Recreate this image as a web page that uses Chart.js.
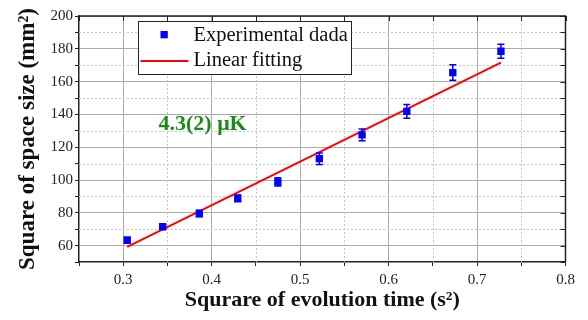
<!DOCTYPE html>
<html>
<head>
<meta charset="utf-8">
<script src="https://cdn.jsdelivr.net/npm/chart.js@4"></script>
<style>
  html, body { margin: 0; padding: 0; background: #ffffff; }
  #wrap { width: 588px; height: 320px; position: relative; }
</style>
</head>
<body>
<div id="wrap"><canvas id="c"></canvas></div>
<script>
// ---- data ----
const timeSq   = [0.3045, 0.3446, 0.386, 0.4295, 0.4748, 0.5217, 0.570, 0.6206, 0.6726, 0.727];
const sizeSq   = [63.3, 71.5, 79.6, 88.8, 98.8, 113.0, 127.5, 141.8, 165.5, 178.5];
const sizeErr  = [1.8, 1.5, 2.0, 2.0, 2.5, 3.5, 3.6, 4.2, 4.7, 4.3];
const fitX     = [0.3045, 0.727];
const fitY     = [59.2, 171.6];
const seriesNames = ['Experimental dada', 'Linear fitting'];
const annotationText = '4.3(2) μK';
const xTitle = 'Squrare of evolution time (s²)';
const yTitle = 'Square of space size (mm²)';

const SERIF = "'Liberation Serif', 'Times New Roman', serif";
const AXIS_COLOR = '#222222';
const MAJOR_GRID = '#ababab';
const MINOR_GRID = '#c4c4c4';

function isMajorX(v) { return Math.round(v * 100) % 10 === 0; }
function isMajorY(v) { return Math.round(v) % 20 === 0; }

const decorPlugin = {
  id: 'decor',
  beforeDatasetsDraw(chart) {
    const ctx = chart.ctx;
    const xs = chart.scales.x, ys = chart.scales.y;
    const a = chart.chartArea;
    ctx.save();
    // minor dotted grid lines
    ctx.strokeStyle = MINOR_GRID;
    ctx.lineWidth = 1;
    ctx.setLineDash([2, 2]);
    xs.ticks.forEach(t => {
      if (!isMajorX(t.value) && t.value > xs.min + 1e-9 && t.value < xs.max - 1e-9) {
        const px = Math.round(xs.getPixelForValue(t.value)) + 0.5;
        ctx.beginPath(); ctx.moveTo(px, a.top); ctx.lineTo(px, a.bottom); ctx.stroke();
      }
    });
    ys.ticks.forEach(t => {
      if (!isMajorY(t.value) && t.value > ys.min + 1e-9 && t.value < ys.max - 1e-9) {
        const py = Math.round(ys.getPixelForValue(t.value)) + 0.5;
        ctx.beginPath(); ctx.moveTo(a.left, py); ctx.lineTo(a.right, py); ctx.stroke();
      }
    });
    ctx.setLineDash([]);
    // top and right frame lines with inward ticks
    ctx.strokeStyle = AXIS_COLOR;
    ctx.lineWidth = 1.5;
    ctx.beginPath();
    ctx.moveTo(a.left, a.top); ctx.lineTo(a.right, a.top); ctx.lineTo(a.right, a.bottom);
    ctx.stroke();
    ctx.lineWidth = 1;
    xs.ticks.forEach(t => {
      const px = Math.round(xs.getPixelForValue(t.value)) + 0.5;
      ctx.beginPath(); ctx.moveTo(px, a.top); ctx.lineTo(px, a.top + 5); ctx.stroke();
    });
    ys.ticks.forEach(t => {
      const py = Math.round(ys.getPixelForValue(t.value)) + 0.5;
      ctx.beginPath(); ctx.moveTo(a.right, py); ctx.lineTo(a.right - 5, py); ctx.stroke();
    });
    ctx.restore();
  },
  afterDatasetsDraw(chart) {
    const ctx = chart.ctx;
    const xs = chart.scales.x, ys = chart.scales.y;
    const a = chart.chartArea;
    const ds0 = chart.data.datasets[0];
    const ds1 = chart.data.datasets[1];
    ctx.save();
    // error bars
    ctx.strokeStyle = ds0.backgroundColor;
    ctx.lineWidth = 1.5;
    ds0.data.forEach((p, i) => {
      const px = xs.getPixelForValue(p.x);
      const y1 = ys.getPixelForValue(p.y - sizeErr[i]);
      const y2 = ys.getPixelForValue(p.y + sizeErr[i]);
      ctx.beginPath();
      ctx.moveTo(px, y1); ctx.lineTo(px, y2);
      ctx.moveTo(px - 3.5, y1); ctx.lineTo(px + 3.5, y1);
      ctx.moveTo(px - 3.5, y2); ctx.lineTo(px + 3.5, y2);
      ctx.stroke();
    });
    // annotation
    ctx.fillStyle = '#1e8a1e';
    ctx.font = "bold 22px " + SERIF;
    ctx.textAlign = 'left';
    ctx.textBaseline = 'alphabetic';
    ctx.fillText(annotationText, a.left + 79.5, a.top + 113.5);
    // legend box
    const bx = a.left + 59.5, by = a.top + 5.5, bw = 213, bh = 53;
    ctx.fillStyle = '#ffffff';
    ctx.fillRect(bx, by, bw, bh);
    ctx.strokeStyle = AXIS_COLOR;
    ctx.lineWidth = 1;
    ctx.strokeRect(bx, by, bw, bh);
    // entry 1: square marker
    ctx.fillStyle = ds0.backgroundColor;
    ctx.fillRect(bx + 22, by + 9.5, 7.3, 7.3);
    ctx.fillStyle = '#111111';
    ctx.font = "20.5px " + SERIF;
    ctx.textBaseline = 'middle';
    ctx.fillText(ds0.label, bx + 55, by + 14);
    // entry 2: line sample
    ctx.strokeStyle = ds1.borderColor;
    ctx.lineWidth = 2;
    ctx.beginPath();
    ctx.moveTo(bx + 2, by + 39.5); ctx.lineTo(bx + 50, by + 39.5);
    ctx.stroke();
    ctx.fillText(ds1.label, bx + 55, by + 39.5);
    ctx.restore();
  }
};

new Chart(document.getElementById('c'), {
  type: 'scatter',
  data: {
    datasets: [
      {
        label: seriesNames[0],
        data: timeSq.map((x, i) => ({ x: x, y: sizeSq[i] })),
        pointStyle: 'rect',
        pointRadius: 5.2,
        pointHoverRadius: 5.2,
        backgroundColor: '#0000ff',
        borderColor: '#0000ff',
        borderWidth: 0,
        showLine: false,
        order: 1
      },
      {
        type: 'line',
        label: seriesNames[1],
        data: fitX.map((x, i) => ({ x: x, y: fitY[i] })),
        borderColor: '#ff0000',
        backgroundColor: '#ff0000',
        borderWidth: 2,
        pointRadius: 0,
        fill: false,
        order: 2
      }
    ]
  },
  options: {
    responsive: true,
    maintainAspectRatio: false,
    animation: false,
    devicePixelRatio: 1,
    layout: { padding: { top: 16, right: 22.5, bottom: 0, left: 0 } },
    plugins: {
      legend: { display: false },
      tooltip: { enabled: false }
    },
    scales: {
      x: {
        type: 'linear',
        min: 0.25, max: 0.8,
        afterFit(s) { s.height = 58; },
        ticks: {
          stepSize: 0.05,
          autoSkip: false,
          maxRotation: 0,
          padding: 5,
          color: '#222222',
          font: { family: SERIF, size: 15 },
          callback: v => isMajorX(v) ? v.toFixed(1) : ''
        },
        grid: {
          color: c => (c.tick && isMajorX(c.tick.value)) ? MAJOR_GRID : 'rgba(0,0,0,0)',
          tickColor: AXIS_COLOR,
          tickLength: 4,
          lineWidth: 1
        },
        border: { color: AXIS_COLOR, width: 1.5 },
        title: {
          display: true,
          text: xTitle,
          color: '#111111',
          font: { family: SERIF, size: 22, weight: 'bold' },
          padding: { top: 0, bottom: 6 }
        }
      },
      y: {
        type: 'linear',
        min: 50, max: 200,
        afterFit(s) { s.width = 79; },
        ticks: {
          stepSize: 10,
          autoSkip: false,
          padding: 2,
          color: '#222222',
          font: { family: SERIF, size: 15 },
          callback: v => isMajorY(v) ? String(v) : ''
        },
        grid: {
          color: c => (c.tick && isMajorY(c.tick.value)) ? MAJOR_GRID : 'rgba(0,0,0,0)',
          tickColor: AXIS_COLOR,
          tickLength: 4,
          lineWidth: 1
        },
        border: { color: AXIS_COLOR, width: 1.5 },
        title: {
          display: true,
          text: yTitle,
          color: '#111111',
          font: { family: SERIF, size: 23, weight: 'bold' },
          padding: { top: 14, bottom: 0 }
        }
      }
    }
  },
  plugins: [decorPlugin]
});
</script>
</body>
</html>
